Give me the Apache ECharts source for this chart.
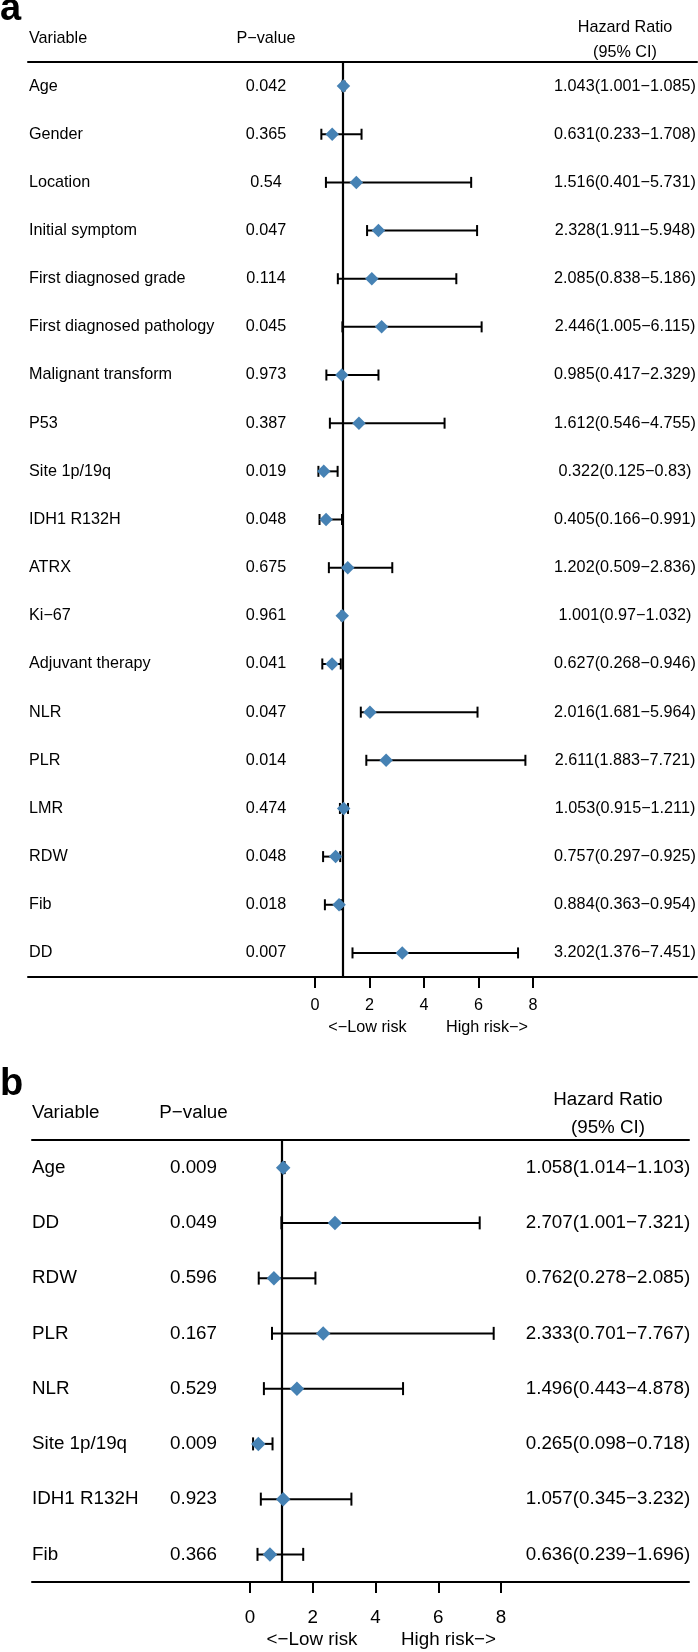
<!DOCTYPE html>
<html><head><meta charset="utf-8">
<script src="https://cdn.jsdelivr.net/npm/echarts@6/dist/echarts.min.js"></script>
<style>html,body{margin:0;padding:0;background:#fff}#c{width:698px;height:1652px}</style>
</head><body><div id="c"></div>
<script>
// ---------- Panel a data ----------
const varsA = ['Age','Gender','Location','Initial symptom','First diagnosed grade','First diagnosed pathology','Malignant transform','P53','Site 1p/19q','IDH1 R132H','ATRX','Ki\u221267','Adjuvant therapy','NLR','PLR','LMR','RDW','Fib','DD'];
const pA  = [0.042,0.365,0.54,0.047,0.114,0.045,0.973,0.387,0.019,0.048,0.675,0.961,0.041,0.047,0.014,0.474,0.048,0.018,0.007];
const hrA = [1.043,0.631,1.516,2.328,2.085,2.446,0.985,1.612,0.322,0.405,1.202,1.001,0.627,2.016,2.611,1.053,0.757,0.884,3.202];
const loA = [1.001,0.233,0.401,1.911,0.838,1.005,0.417,0.546,0.125,0.166,0.509,0.97,0.268,1.681,1.883,0.915,0.297,0.363,1.376];
const hiA = [1.085,1.708,5.731,5.948,5.186,6.115,2.329,4.755,0.83,0.991,2.836,1.032,0.946,5.964,7.721,1.211,0.925,0.954,7.451];

// ---------- Panel b data ----------
const varsB = ['Age','DD','RDW','PLR','NLR','Site 1p/19q','IDH1 R132H','Fib'];
const pB  = [0.009,0.049,0.596,0.167,0.529,0.009,0.923,0.366];
const hrB = [1.058,2.707,0.762,2.333,1.496,0.265,1.057,0.636];
const loB = [1.014,1.001,0.278,0.701,0.443,0.098,0.345,0.239];
const hiB = [1.103,7.321,2.085,7.767,4.878,0.718,3.232,1.696];

// ---------- shared labels ----------
const xTicks = [0,2,4,6,8];
const refValue = 1;
const headVar = 'Variable', headP = 'P\u2212value', headHR1 = 'Hazard Ratio', headHR2 = '(95% CI)';
const lowLab = '<\u2212Low risk', highLab = 'High risk\u2212>';

const FONT = '"Liberation Sans", Arial, Helvetica, sans-serif';
const STEEL = '#4682B4';

const LAY = {
  a: {tag:'a', left:28, right:697, top:62, bottom:977, zero:315, unit:27.25, pC:266, hrC:625, varX:29, fs:16.2,
      cap:11, diam:13.5, headY:39, hr1Y:28, hr2Y:53, tickLabY:1007, riskY:1028, lowX:367.5, highX:487, tagY:9.7},
  b: {tag:'b', left:32, right:689, top:1140, bottom:1582, zero:250, unit:31.375, pC:193.5, hrC:608, varX:32, fs:18.8,
      cap:13, diam:14.5, headY:1113, hr1Y:1100, hr2Y:1128, tickLabY:1618, riskY:1640, lowX:312, highX:448.5, tagY:1084.7}
};

const fmtHR = (h,l,u) => h + '(' + l + '\u2212' + u + ')';

const grids = [], xAxes = [], yAxes = [], series = [], graphics = [];

function panel(gi, L, vars, p, hr, lo, hi) {
  grids.push({left:L.left, top:L.top, width:L.right-L.left, height:L.bottom-L.top});
  const min = (L.left - L.zero)/L.unit, max = (L.right - L.zero)/L.unit;
  xAxes.push({
    type:'value', gridIndex:gi, position:'bottom', min:min, max:max,
    axisLine:{show:true, onZero:false, lineStyle:{color:'#000', width:2}},
    axisTick:{show:true, customValues:xTicks, length:11, lineStyle:{color:'#000', width:2}},
    axisLabel:{show:true, customValues:xTicks, color:'#000', fontSize:L.fs, fontFamily:FONT, margin:Math.round(L.tickLabY - L.bottom - L.fs*0.55)},
    splitLine:{show:false}
  });
  xAxes.push({
    type:'value', gridIndex:gi, position:'top', min:min, max:max,
    axisLine:{show:true, onZero:false, lineStyle:{color:'#000', width:2}},
    axisTick:{show:false}, axisLabel:{show:false}, splitLine:{show:false}
  });
  yAxes.push({type:'category', gridIndex:gi, inverse:true, data:vars,
    axisLine:{show:false}, axisTick:{show:false}, axisLabel:{show:false}, splitLine:{show:false}});
  const xi = gi*2, yi = gi;

  // table text
  series.push({
    type:'custom', xAxisIndex:xi, yAxisIndex:yi, silent:true, z:5,
    data: vars.map((v,i)=>[0,i]), encode:{x:0, y:1},
    renderItem:(params, api) => {
      const i = api.value(1);
      const y = api.coord([0, i])[1];
      const st = (t, al) => ({text:t, fill:'#000', fontSize:L.fs, fontFamily:FONT, align:al, verticalAlign:'middle'});
      return {type:'group', children:[
        {type:'text', x:L.varX, y:y, style:st(vars[i], 'left')},
        {type:'text', x:L.pC, y:y, style:st(String(p[i]), 'center')},
        {type:'text', x:L.hrC, y:y, style:st(fmtHR(hr[i], lo[i], hi[i]), 'center')}
      ]};
    }
  });

  // confidence intervals
  series.push({
    type:'custom', xAxisIndex:xi, yAxisIndex:yi, silent:true, z:3,
    data: lo.map((v,i)=>[v, hi[i], i]), encode:{x:[0,1], y:2},
    renderItem:(params, api) => {
      const i = api.value(2);
      const p1 = api.coord([api.value(0), i]);
      const p2 = api.coord([api.value(1), i]);
      const h = L.cap/2;
      const s = {stroke:'#000', lineWidth:2};
      return {type:'group', children:[
        {type:'line', shape:{x1:p1[0], y1:p1[1], x2:p2[0], y2:p2[1]}, style:s},
        {type:'line', shape:{x1:p1[0], y1:p1[1]-h, x2:p1[0], y2:p1[1]+h}, style:s},
        {type:'line', shape:{x1:p2[0], y1:p2[1]-h, x2:p2[0], y2:p2[1]+h}, style:s}
      ]};
    }
  });

  // point estimates + reference line
  series.push({
    type:'scatter', xAxisIndex:xi, yAxisIndex:yi, z:6,
    data: hr.map((v,i)=>[v,i]), symbol:'diamond', symbolSize:L.diam,
    itemStyle:{color:STEEL, opacity:1},
    markLine:{silent:true, symbol:'none', label:{show:false}, z:2,
      lineStyle:{color:'#000', width:2.2, type:'solid'}, data:[{xAxis:refValue}]}
  });

  const t = (x, y, text, al, extra) => graphics.push({type:'text', x:x, y:y, silent:true,
    style:Object.assign({text:text, fill:'#000', fontSize:L.fs, fontFamily:FONT, align:al, verticalAlign:'middle'}, extra||{})});
  t(0, L.tagY, L.tag, 'left', {fontSize:38, fontWeight:'bold'});
  t(L.varX, L.headY, headVar, 'left');
  t(L.pC, L.headY, headP, 'center');
  t(L.hrC, L.hr1Y, headHR1, 'center');
  t(L.hrC, L.hr2Y, headHR2, 'center');
  t(L.lowX, L.riskY, lowLab, 'center');
  t(L.highX, L.riskY, highLab, 'center');
}

panel(0, LAY.a, varsA, pA, hrA, loA, hiA);
panel(1, LAY.b, varsB, pB, hrB, loB, hiB);

const chart = echarts.init(document.getElementById('c'), null, {renderer:'canvas'});
chart.setOption({
  animation:false, backgroundColor:'#fff',
  grid:grids, xAxis:xAxes, yAxis:yAxes, series:series, graphic:graphics
});
</script>
</body></html>
